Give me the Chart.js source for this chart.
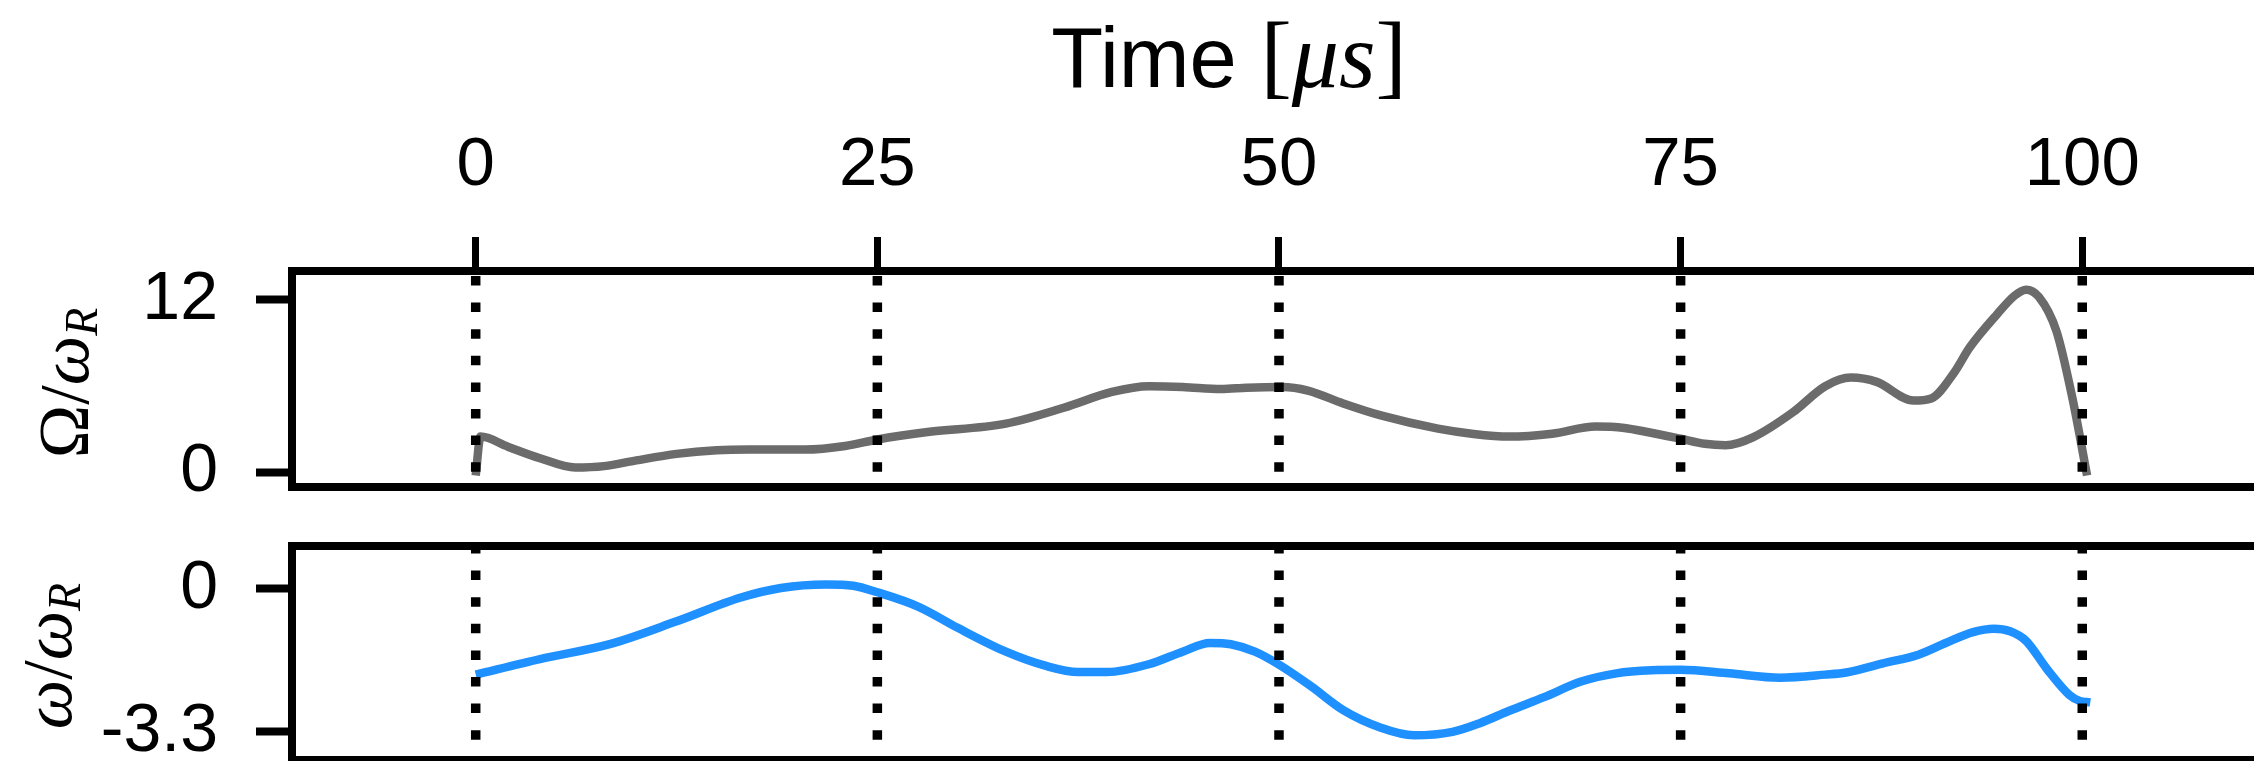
<!DOCTYPE html>
<html>
<head>
<meta charset="utf-8">
<script src="https://cdn.jsdelivr.net/npm/chart.js@4.4.0/dist/chart.umd.min.js"></script>
<style>
  html, body { margin: 0; padding: 0; background: #fff; overflow: hidden; }
  #wrap { position: relative; width: 2254px; height: 761px; }
  #topBox { position: absolute; left: 0; top: 0; width: 2254px; height: 500px; }
  #botBox { position: absolute; left: 0; top: 510px; width: 2254px; height: 256px; }
</style>
</head>
<body>
<div id="wrap">
  <div id="topBox"><canvas id="topChart"></canvas></div>
  <div id="botBox"><canvas id="botChart"></canvas></div>
</div>
<script>
'use strict';
// time axis, in microseconds
let timeTicks = [0, 25, 50, 75, 100];
let xMin = -11.46;
let xMax = 110.69;

// upper panel: Rabi frequency Omega / omega_R
let timeRabi = [0, 0.3, 2, 4, 6.2, 8, 10, 12.5, 15, 17, 20.5, 23, 25, 28, 33, 36.6, 39.6, 41.9, 44, 46.4, 48,
  50.2, 51.8, 54, 56.4, 59.9, 62, 64.3, 67, 69.7, 71.5, 73, 75, 76.5, 77.8, 79.5, 82, 84, 85.6, 87.2, 89.5,
  90.6, 92, 93, 94.7, 95.8, 96.5, 97.3, 98.4, 99.4, 100.3];
let rabiValues = [-0.2, 2.5, 1.8, 1.0, 0.35, 0.45, 0.85, 1.3, 1.55, 1.6, 1.6, 1.85, 2.3, 2.8, 3.4, 4.5, 5.6, 6.0, 5.95, 5.8, 5.9,
  5.95, 5.7, 4.8, 3.95, 3.05, 2.7, 2.5, 2.7, 3.2, 3.1, 2.8, 2.35, 2.0, 1.9, 2.45, 4.2, 6.0, 6.6, 6.3, 5.0,
  5.15, 6.9, 8.7, 11.0, 12.3, 12.7, 12.2, 9.8, 5.1, -0.2];
let rabiTicks = [0, 12];

// lower panel: detuning omega / omega_R
let timeDetuning = [0, 4, 8.4, 12.5, 16.5, 19, 21.8, 23.5, 25, 27.6, 30, 33, 35.5, 37.5, 39.3, 41.9, 44, 45.7, 47, 48.5,
  50, 52, 54, 56.3, 58.4, 60.8, 62.5, 64.3, 66.5, 68.8, 71, 73.2, 75, 78, 81.2, 84, 85.3, 87.6, 89.8, 91.5,
  93.2, 94.5, 95.5, 96.5, 97.8, 99.2, 99.8, 100.5];
let detuningValues = [-1.98, -1.62, -1.27, -0.75, -0.2, 0.02, 0.1, 0.07, -0.08, -0.42, -0.9, -1.45, -1.78, -1.92, -1.92, -1.74, -1.45, -1.25, -1.28, -1.45,
  -1.75, -2.25, -2.8, -3.2, -3.38, -3.3, -3.1, -2.82, -2.5, -2.14, -1.95, -1.88, -1.87, -1.95, -2.05, -1.98, -1.93, -1.72, -1.52, -1.25,
  -1.0, -0.92, -0.98, -1.2, -1.85, -2.45, -2.58, -2.62];
let detuningTicks = [0, -3.3];

const sansFont = "'Liberation Sans', Arial, sans-serif";
const serifFont = "'Liberation Serif', 'Times New Roman', serif";

function toPoints(xs, ys) {
  return xs.map((x, i) => ({ x: x, y: ys[i] }));
}

// pin axis sizes so the plot frames land where they are in the figure
function pinWidth(w) {
  return function(scale) { scale.width = w; scale.paddingTop = 0; scale.paddingBottom = 0; };
}
function pinHeight(h) {
  return function(scale) { scale.height = h; scale.paddingLeft = 0; scale.paddingRight = 0; };
}
function fixedTicks(values) {
  return function(scale) { scale.ticks = values.map(v => ({ value: v })); };
}

// draw a row of text pieces with different fonts, centred on cx
function drawRow(ctx, parts, cx, baseY) {
  let total = 0;
  parts.forEach(p => { ctx.font = p.font; p.w = ctx.measureText(p.text).width; total += p.w; });
  let x = cx - total / 2;
  ctx.fillStyle = '#000';
  ctx.textAlign = 'left';
  ctx.textBaseline = 'alphabetic';
  parts.forEach(p => {
    ctx.font = p.font;
    ctx.fillText(p.text, x, baseY + (p.dy || 0));
    x += p.w;
  });
}
function drawRotated(ctx, parts, baseX, cy) {
  ctx.save();
  ctx.translate(baseX, cy);
  ctx.rotate(-Math.PI / 2);
  drawRow(ctx, parts, 0, 0);
  ctx.restore();
}

// vertical dotted lines at every time tick, drawn over the curves
const dottedGrid = {
  id: 'dottedGrid',
  afterDatasetsDraw(chart, args, opts) {
    const ctx = chart.ctx;
    const area = chart.chartArea;
    const xs = chart.scales.x;
    ctx.save();
    ctx.strokeStyle = '#000';
    ctx.lineWidth = 9.5;
    ctx.lineCap = 'butt';
    ctx.setLineDash([9.5, 17.1]);
    timeTicks.forEach(t => {
      const px = xs.getPixelForValue(t);
      ctx.beginPath();
      ctx.moveTo(px, area.top + opts.start);
      ctx.lineTo(px, area.bottom);
      ctx.stroke();
    });
    ctx.restore();
  }
};

const mathLabels = {
  id: 'mathLabels',
  afterDraw(chart, args, opts) {
    const ctx = chart.ctx;
    if (opts.title) {
      drawRow(ctx, [
        { text: 'Time ', font: '85px ' + sansFont },
        { text: '[', font: '94px ' + serifFont },
        { text: 'μs', font: 'italic 94px ' + serifFont },
        { text: ']', font: '94px ' + serifFont }
      ], 1229, 87);
    }
    const lab = opts.ylabel;
    drawRotated(ctx, [
      { text: lab.first, font: lab.firstFont },
      { text: '/', font: '70px ' + serifFont },
      { text: 'ω', font: 'italic 70px ' + serifFont },
      { text: 'R', font: 'italic 46px ' + serifFont, dy: 9 }
    ], lab.x, lab.y);
  }
};

function makeOptions(cfg) {
  return {
    responsive: true,
    maintainAspectRatio: false,
    animation: false,
    layout: { padding: { left: 0, right: 0, top: 0, bottom: cfg.padBottom } },
    plugins: {
      legend: { display: false },
      tooltip: { enabled: false },
      dottedGrid: { start: cfg.dotStart },
      mathLabels: { title: cfg.title, ylabel: cfg.ylabel }
    },
    scales: {
      x: {
        type: 'linear',
        position: 'top',
        min: xMin,
        max: xMax,
        afterBuildTicks: fixedTicks(timeTicks),
        afterFit: pinHeight(cfg.top),
        grid: {
          drawOnChartArea: false,
          drawTicks: cfg.title,
          tickLength: 34,
          tickWidth: 7,
          tickColor: '#000'
        },
        border: { display: true, color: '#000', width: 8 },
        ticks: {
          display: cfg.title,
          color: '#000',
          font: { family: sansFont, size: 69 },
          padding: 30,
          maxRotation: 0,
          autoSkip: false,
          callback: v => String(v)
        }
      },
      xb: {
        type: 'linear',
        position: 'bottom',
        min: xMin,
        max: xMax,
        afterFit: pinHeight(0),
        grid: { display: false, drawTicks: false },
        border: { display: true, color: '#000', width: 8 },
        ticks: { display: false }
      },
      y: {
        type: 'linear',
        min: cfg.yMin,
        max: cfg.yMax,
        afterBuildTicks: fixedTicks(cfg.yTicks),
        afterFit: pinWidth(291.6),
        grid: {
          drawOnChartArea: false,
          tickLength: 35.6,
          tickWidth: 8,
          tickColor: '#000'
        },
        border: { display: true, color: '#000', width: 8 },
        ticks: {
          color: '#000',
          font: { family: sansFont, size: 68 },
          padding: 38,
          autoSkip: false,
          callback: v => String(v)
        }
      }
    }
  };
}

let topChart = new Chart(document.getElementById('topChart'), {
  type: 'line',
  data: {
    datasets: [{
      label: 'Ω/ω_R',
      data: toPoints(timeRabi, rabiValues),
      borderColor: '#6b6b6b',
      borderWidth: 8.5,
      pointRadius: 0,
      fill: false,
      cubicInterpolationMode: 'monotone'
    }]
  },
  options: makeOptions({
    padBottom: 13,
    top: 271,
    title: true,
    dotStart: 5,
    yMin: -1,
    yMax: 14,
    yTicks: rabiTicks,
    ylabel: { first: 'Ω', firstFont: '72px ' + serifFont, x: 88, y: 383 }
  }),
  plugins: [dottedGrid, mathLabels]
});

let botChart = new Chart(document.getElementById('botChart'), {
  type: 'line',
  data: {
    datasets: [{
      label: 'ω/ω_R',
      data: toPoints(timeDetuning, detuningValues),
      borderColor: '#1e90ff',
      borderWidth: 8.5,
      pointRadius: 0,
      fill: false,
      cubicInterpolationMode: 'monotone'
    }]
  },
  options: makeOptions({
    padBottom: 6,
    top: 35.5,
    title: false,
    dotStart: -1.5,
    yMin: -3.95,
    yMax: 1.0,
    yTicks: detuningTicks,
    ylabel: { first: 'ω', firstFont: 'italic 70px ' + serifFont, x: 71, y: 146 }
  }),
  plugins: [dottedGrid, mathLabels]
});
</script>
</body>
</html>
